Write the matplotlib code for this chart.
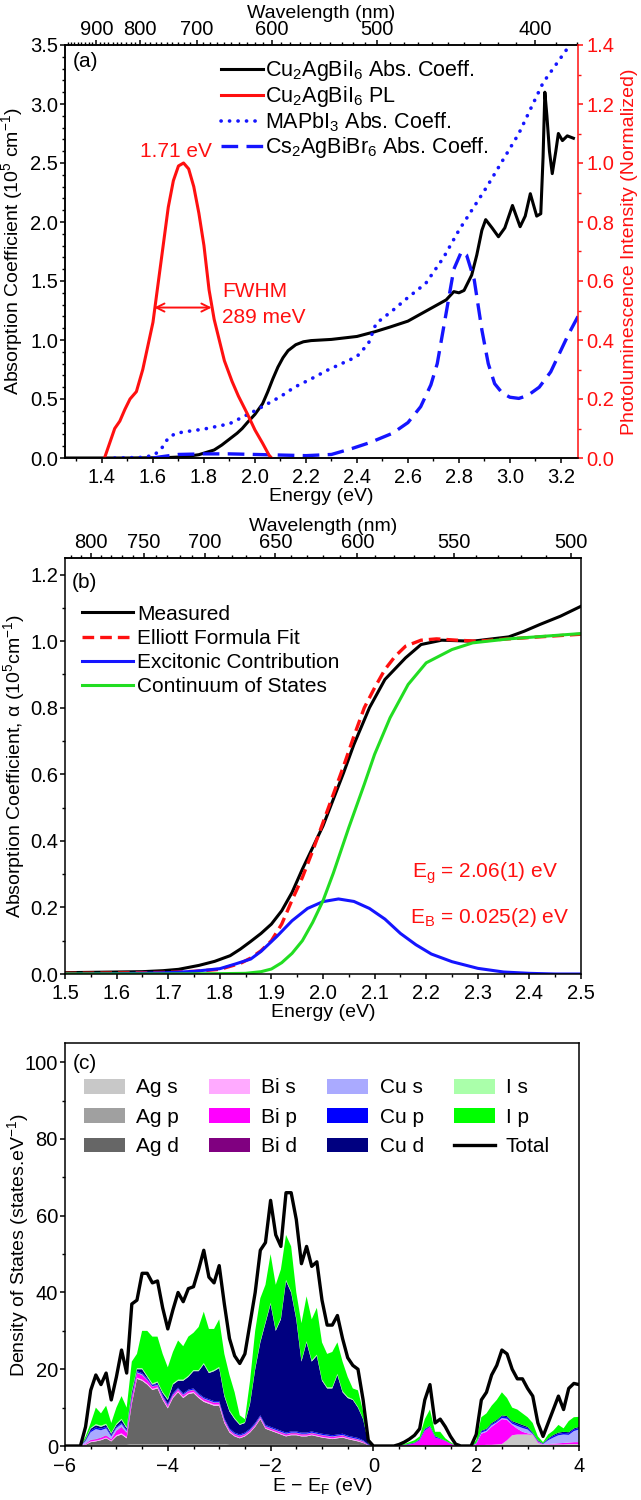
import numpy as np
import matplotlib
matplotlib.use('Agg')
import matplotlib.pyplot as plt
from matplotlib.ticker import MultipleLocator, FixedLocator
from matplotlib.patches import Patch
from matplotlib.lines import Line2D

plt.rcParams['font.family'] = ['Liberation Sans', 'DejaVu Sans']
plt.rcParams['mathtext.default'] = 'regular'
plt.rcParams['font.size'] = 14.5
plt.rcParams['axes.labelsize'] = 14
plt.rcParams['axes.linewidth'] = 1.1

# ---------------- panel (a): absorption + PL ----------------
cu_e = [1.255, 1.50, 1.60, 1.66, 1.72, 1.78, 1.84, 1.87, 1.90, 1.93, 1.95, 1.97, 2.00, 2.03,
        2.05, 2.07, 2.09, 2.11, 2.13, 2.16, 2.19, 2.22, 2.30, 2.40, 2.47, 2.53, 2.60, 2.65,
        2.70, 2.75, 2.78, 2.80, 2.82, 2.85, 2.87, 2.89, 2.905, 2.93, 2.955, 2.98, 3.01, 3.04,
        3.06, 3.08, 3.105, 3.121, 3.13, 3.137, 3.145, 3.155, 3.166, 3.18, 3.19, 3.206, 3.225,
        3.249]
cu_abs = [0.0, 0.0, 0.002, 0.004, 0.01, 0.028, 0.068, 0.11, 0.16, 0.21, 0.25, 0.30, 0.37, 0.46,
          0.56, 0.67, 0.77, 0.85, 0.91, 0.96, 0.985, 0.995, 1.005, 1.03, 1.07, 1.11, 1.16, 1.22,
          1.28, 1.34, 1.41, 1.40, 1.42, 1.55, 1.72, 1.93, 2.02, 1.95, 1.875, 1.95, 2.14, 1.96,
          2.05, 2.24, 2.05, 2.07, 2.55, 3.1, 2.9, 2.6, 2.41, 2.6, 2.75, 2.69, 2.73, 2.71]

pl_e = [1.41, 1.43, 1.45, 1.47, 1.49, 1.51, 1.535, 1.56, 1.58, 1.60, 1.62, 1.64, 1.66, 1.68,
        1.70, 1.72, 1.74, 1.76, 1.78, 1.80, 1.82, 1.84, 1.86, 1.88, 1.91, 1.935, 1.97, 2.00,
        2.03, 2.055, 2.065]
pl_int = [0.0, 0.05, 0.10, 0.125, 0.165, 0.20, 0.225, 0.30, 0.38, 0.46, 0.59, 0.72, 0.85, 0.94,
          0.99, 1.0, 0.98, 0.92, 0.83, 0.72, 0.57, 0.47, 0.40, 0.33, 0.26, 0.21, 0.15, 0.095,
          0.05, 0.01, 0.0]

ma_e = [1.45, 1.55, 1.60, 1.63, 1.66, 1.69, 1.75, 1.80, 1.90, 2.00, 2.10, 2.155, 2.22, 2.285,
        2.35, 2.40, 2.445, 2.475, 2.54, 2.60, 2.67, 2.74, 2.80, 2.91, 3.035, 3.13, 3.235]
ma_abs = [0.0, 0.005, 0.02, 0.068, 0.17, 0.21, 0.23, 0.245, 0.29, 0.40, 0.52, 0.60, 0.67, 0.745,
          0.81, 0.86, 0.97, 1.14, 1.25, 1.36, 1.48, 1.70, 1.93, 2.30, 2.75, 3.18, 3.5]

cs_e = [1.60, 1.63, 1.70, 1.80, 1.90, 2.00, 2.10, 2.20, 2.30, 2.38, 2.45, 2.54, 2.60, 2.65, 2.69,
        2.715, 2.75, 2.78, 2.81, 2.83, 2.86, 2.89, 2.915, 2.94, 2.97, 3.00, 3.035, 3.07, 3.115,
        3.16, 3.195, 3.23, 3.267]
cs_abs = [0.0, 0.01, 0.03, 0.035, 0.035, 0.03, 0.025, 0.02, 0.03, 0.08, 0.13, 0.21, 0.30, 0.435,
          0.62, 0.80, 1.23, 1.60, 1.75, 1.72, 1.51, 1.085, 0.80, 0.63, 0.55, 0.515, 0.505, 0.53,
          0.60, 0.73, 0.89, 1.05, 1.20]

# ---------------- panel (b): Elliott fit ----------------
meas_e = [1.50, 1.55, 1.60, 1.65, 1.69, 1.72, 1.76, 1.79, 1.82, 1.84, 1.86, 1.88, 1.90, 1.92,
          1.94, 1.96, 1.98, 2.00, 2.02, 2.04, 2.06, 2.09, 2.12, 2.16, 2.19, 2.23, 2.29, 2.36,
          2.39, 2.42, 2.46, 2.50]
meas_a = [0.004, 0.005, 0.006, 0.007, 0.010, 0.014, 0.026, 0.038, 0.055, 0.075, 0.098, 0.122,
          0.15, 0.19, 0.245, 0.315, 0.38, 0.445, 0.525, 0.605, 0.69, 0.80, 0.885, 0.95, 0.99,
          1.003, 1.0, 1.013, 1.03, 1.05, 1.075, 1.105]

fit_e = [1.50, 1.60, 1.70, 1.75, 1.80, 1.84, 1.86, 1.88, 1.90, 1.92, 1.94, 1.96, 1.98, 2.00,
         2.02, 2.04, 2.06, 2.08, 2.10, 2.12, 2.14, 2.16, 2.19, 2.22, 2.26, 2.30, 2.35, 2.40,
         2.45, 2.50]
fit_a = [0.002, 0.003, 0.005, 0.008, 0.014, 0.032, 0.048, 0.07, 0.10, 0.15, 0.222, 0.29, 0.37,
         0.455, 0.54, 0.625, 0.715, 0.80, 0.86, 0.915, 0.955, 0.985, 1.003, 1.007, 1.003, 1.0,
         1.006, 1.011, 1.016, 1.021]

exc_e = [1.50, 1.60, 1.70, 1.75, 1.80, 1.83, 1.86, 1.88, 1.91, 1.94, 1.97, 2.00, 2.03, 2.06,
         2.09, 2.12, 2.15, 2.18, 2.21, 2.25, 2.30, 2.35, 2.40, 2.45, 2.50]
exc_a = [0.0, 0.001, 0.004, 0.008, 0.016, 0.030, 0.045, 0.068, 0.112, 0.160, 0.197, 0.2175,
         0.2255, 0.218, 0.197, 0.165, 0.122, 0.088, 0.06, 0.037, 0.017, 0.006, 0.002, 0.0, 0.0]

cont_e = [1.50, 1.70, 1.80, 1.85, 1.88, 1.90, 1.92, 1.94, 1.96, 1.98, 2.00, 2.02, 2.05, 2.08,
          2.10, 2.13, 2.165, 2.20, 2.25, 2.29, 2.36, 2.43, 2.50]
cont_a = [0.0, 0.0, 0.001, 0.002, 0.007, 0.015, 0.034, 0.062, 0.10, 0.155, 0.22, 0.303, 0.44,
          0.57, 0.66, 0.77, 0.87, 0.935, 0.975, 0.995, 1.007, 1.015, 1.023]

# ---------------- panel (c): projected DOS, E - EF from -6.0 to 4.0 step 0.1 ----------------
dos_e = np.round(np.linspace(-6.0, 4.0, 101), 2)

ag_s = [0, 0, 0, 0, 0.1, 0.1, 0.1, 0.1, 0.1, 0.1,
        0.1, 0.1, 0.1, 0.2, 0.2, 0.2, 0.2, 0.2, 0.2, 0.2,
        0.2, 0.2, 0.2, 0.2, 0.2, 0.2, 0.2, 0.2, 0.2, 0.2,
        0.2, 0.2, 0.1, 0.1, 0.1, 0.1, 0.1, 0.1, 0.1, 0.1,
        0.1, 0.1, 0.1, 0.1, 0.1, 0.1, 0.1, 0.1, 0.1, 0.1,
        0.1, 0.1, 0.1, 0.1, 0.1, 0.1, 0.1, 0.1, 0.1, 0,
        0, 0, 0, 0, 0, 0, 0, 0, 0, 0,
        0.1, 0.1, 0.1, 0.1, 0, 0, 0, 0, 0, 0,
        0.1, 0.2, 0.3, 0.3, 0.4, 0.5, 1.5, 2.8, 3.0, 3.0,
        3.0, 2.9, 0.8, 0.3, 0.4, 0.4, 0.4, 0.4, 0.5, 0.5, 0.5]
ag_p = [0, 0, 0, 0, 0.1, 0.2, 0.2, 0.2, 0.2, 0.2,
        0.2, 0.2, 0.2, 0.3, 0.3, 0.3, 0.3, 0.3, 0.3, 0.3,
        0.3, 0.3, 0.3, 0.3, 0.3, 0.3, 0.3, 0.3, 0.3, 0.3,
        0.3, 0.3, 0.2, 0.2, 0.2, 0.2, 0.2, 0.2, 0.2, 0.2,
        0.2, 0.2, 0.2, 0.2, 0.2, 0.2, 0.2, 0.2, 0.2, 0.2,
        0.2, 0.2, 0.2, 0.2, 0.2, 0.2, 0.2, 0.2, 0.1, 0.1,
        0, 0, 0, 0, 0, 0, 0, 0, 0, 0,
        0, 0, 0, 0, 0, 0, 0, 0, 0, 0,
        0, 0, 0, 0, 0, 0, 0, 0, 0, 0,
        0, 0, 0, 0, 0, 0, 0, 0, 0, 0, 0]
ag_d = [0, 0, 0, 0, 0.1, 0.7, 0.9, 1.2, 1.7, 0.9,
        2.2, 2.7, 1.7, 10.5, 17.0, 16.5, 15.5, 14.1, 14.5, 11.5,
        9.3, 12.0, 13.5, 12.0, 13.0, 13.3, 12.0, 11.0, 10.5, 10.0,
        10.0, 5.5, 3.2, 2.2, 1.7, 2.2, 3.2, 4.7, 6.7, 4.2,
        3.7, 3.2, 2.7, 2.2, 2.5, 2.5, 2.2, 2.2, 2.5, 2.2,
        1.9, 1.7, 1.5, 1.7, 1.9, 1.5, 1.2, 0.9, 0.6, 0.1,
        0, 0, 0, 0, 0, 0, 0, 0, 0, 0,
        0, 0, 0, 0, 0, 0, 0, 0, 0, 0,
        0, 0, 0, 0, 0, 0, 0, 0, 0, 0,
        0, 0, 0, 0, 0, 0, 0, 0, 0, 0, 0]
bi_s = [0, 0, 0, 0, 0.1, 0.2, 0.2, 0.2, 0.2, 0.2,
        0.3, 0.3, 0.3, 0.3, 0.3, 0.3, 0.3, 0.3, 0.3, 0.3,
        0.3, 0.3, 0.3, 0.3, 0.3, 0.3, 0.3, 0.3, 0.3, 0.3,
        0.3, 0.3, 0.3, 0.2, 0.2, 0.2, 0.2, 0.2, 0.2, 0.2,
        0.2, 0.2, 0.2, 0.2, 0.2, 0.2, 0.2, 0.2, 0.2, 0.2,
        0.2, 0.2, 0.2, 0.2, 0.2, 0.2, 0.2, 0.2, 0.1, 0,
        0, 0, 0, 0, 0, 0, 0, 0, 0, 0,
        0, 0, 0, 0, 0, 0, 0, 0, 0, 0,
        0, 0, 0, 0, 0, 0, 0, 0, 0, 0,
        0, 0, 0, 0, 0, 0, 0, 0, 0, 0, 0]
bi_p = [0, 0, 0, 0, 0.2, 0.3, 0.3, 0.4, 0.5, 0.3,
        1.1, 1.6, 1.1, 1.1, 1.1, 1.1, 0.8, 0.5, 0.4, 0.4,
        0.4, 0.4, 0.4, 0.4, 0.4, 0.4, 0.4, 0.4, 0.4, 0.4,
        0.4, 0.4, 0.3, 0.3, 0.3, 0.3, 0.3, 0.3, 0.3, 0.3,
        0.3, 0.3, 0.3, 0.3, 0.3, 0.3, 0.3, 0.3, 0.3, 0.3,
        0.3, 0.3, 0.3, 0.3, 0.3, 0.2, 0.2, 0.2, 0.2, 0.1,
        0, 0, 0, 0, 0, 0.1, 0.2, 0.4, 0.7, 1.5,
        3.9, 4.9, 2.1, 1.7, 1.3, 0.6, 0.1, 0, 0, 0,
        0.4, 3.0, 3.4, 4.7, 5.6, 6.5, 5.3, 2.7, 1.5, 0.7,
        0.3, 0.1, 0.3, 0.1, 0.1, 0.2, 0.3, 0.4, 0.4, 0.5, 0.5]
bi_d = [0, 0, 0, 0, 0, 0.1, 0.1, 0.1, 0.1, 0.1,
        0.1, 0.1, 0.1, 0.1, 0.1, 0.1, 0.1, 0.1, 0.1, 0.1,
        0.1, 0.1, 0.1, 0.1, 0.1, 0.1, 0.1, 0.1, 0.1, 0.1,
        0.1, 0.1, 0.1, 0.1, 0.1, 0.1, 0.1, 0.1, 0.1, 0.1,
        0.1, 0.1, 0.1, 0.1, 0.1, 0.1, 0.1, 0.1, 0.1, 0.1,
        0.1, 0.1, 0.1, 0.1, 0.1, 0.1, 0.1, 0.1, 0.1, 0,
        0, 0, 0, 0, 0, 0, 0, 0, 0, 0,
        0, 0, 0, 0, 0, 0, 0, 0, 0, 0,
        0, 0, 0, 0, 0, 0, 0, 0, 0, 0,
        0, 0, 0, 0, 0, 0, 0, 0, 0, 0, 0]
cu_s = [0, 0, 0, 0, 0.7, 2.0, 2.6, 1.9, 1.8, 0.7,
        0.7, 0.7, 0.4, 0.2, 0.2, 0.2, 0.1, 0.1, 0.1, 0.1,
        0.1, 0.1, 0.1, 0.1, 0.1, 0.1, 0.1, 0.1, 0.1, 0.1,
        0.1, 0.1, 0.1, 0.1, 0.1, 0.1, 0.1, 0.1, 0.1, 0.1,
        0.1, 0.1, 0.1, 0.1, 0.1, 0.1, 0.1, 0.1, 0.1, 0.1,
        0.1, 0.1, 0.1, 0.1, 0.1, 0.1, 0.1, 0.1, 0.1, 0,
        0, 0, 0, 0, 0, 0, 0, 0, 0, 0,
        0, 0, 0, 0, 0, 0, 0, 0, 0, 0,
        0.1, 0.3, 0.3, 0.4, 0.2, 0.3, 0.3, 0.3, 0.7, 1.0,
        1.0, 0.1, 0.1, 0.1, 1.0, 1.6, 2.1, 2.2, 2.0, 2.9, 3.3]
cu_p = [0, 0, 0, 0, 0.2, 0.4, 0.4, 0.4, 0.4, 0.3,
        0.3, 0.3, 0.3, 0.3, 0.3, 0.3, 0.3, 0.3, 0.3, 0.3,
        0.3, 0.3, 0.3, 0.3, 0.3, 0.3, 0.3, 0.3, 0.3, 0.3,
        0.3, 0.3, 0.3, 0.3, 0.3, 0.3, 0.3, 0.3, 0.3, 0.3,
        0.3, 0.3, 0.3, 0.3, 0.3, 0.3, 0.3, 0.3, 0.3, 0.3,
        0.3, 0.3, 0.3, 0.3, 0.3, 0.3, 0.3, 0.3, 0.2, 0.1,
        0, 0, 0, 0, 0, 0.05, 0.05, 0.1, 0.1, 0.2,
        0.3, 0.2, 0.3, 0.1, 0.05, 0.05, 0, 0, 0, 0,
        0.1, 0.3, 0.3, 0.3, 0.3, 0.4, 0.4, 0.4, 0.4, 0.4,
        0.4, 0.2, 0.1, 0.1, 0.3, 0.4, 0.4, 0.4, 0.4, 0.4, 0.4]
cu_d = [0, 0, 0, 0, 0.3, 0.5, 0.6, 0.5, 0.5, 0.4,
        0.5, 0.8, 0.4, 1.0, 0.5, 1.0, 0.4, 0.1, 0.3, 0.6,
        1.0, 2.3, 1.8, 3.3, 3.3, 4.5, 5.8, 8.6, 6.8, 7.8,
        8.6, 5.8, 4.4, 3.5, 2.5, 2.5, 6.5, 14.0, 19.0, 26.5,
        32.0, 25.5, 29.0, 39.5, 36.2, 29.2, 18.5, 23.5, 18.2, 20.0,
        13.8, 12.0, 12.2, 15.5, 10.8, 9.8, 9.6, 7.9, 5.5, 0.4,
        0, 0, 0, 0, 0, 0.05, 0.05, 0.1, 0.1, 0.1,
        0.2, 0.1, 0.1, 0.1, 0.05, 0.05, 0, 0, 0, 0,
        0.1, 0.2, 0.2, 0.3, 0.3, 0.3, 0.3, 0.3, 0.4, 0.4,
        0.3, 0.2, 0.2, 0.1, 0.2, 0.3, 0.3, 0.3, 0.3, 0.3, 0.3]
i_s = [0, 0, 0, 0, 0.1, 0.2, 0.3, 0.3, 0.3, 0.2,
       0.3, 0.3, 0.3, 0.3, 0.3, 0.3, 0.3, 0.3, 0.3, 0.3,
       0.3, 0.3, 0.3, 0.3, 0.3, 0.3, 0.3, 0.3, 0.3, 0.3,
       0.3, 0.3, 0.3, 0.3, 0.2, 0.2, 0.3, 0.3, 0.3, 0.3,
       0.3, 0.3, 0.3, 0.3, 0.3, 0.3, 0.3, 0.3, 0.3, 0.3,
       0.3, 0.3, 0.3, 0.3, 0.3, 0.3, 0.2, 0.2, 0.1, 0,
       0, 0, 0, 0, 0, 0, 0, 0, 0, 0,
       0, 0, 0, 0, 0, 0, 0, 0, 0, 0,
       0, 0, 0, 0, 0, 0, 0, 0, 0, 0,
       0, 0, 0, 0, 0, 0, 0, 0, 0, 0, 0]
i_p = [0, 0, 0, 0, 0.6, 1.3, 4.3, 3.2, 4.7, 2.6,
       4.2, 5.9, 5.1, 7.7, 3.7, 9.7, 11.7, 12.2, 11.7, 9.9,
       8.2, 8.2, 10.2, 8.7, 10.2, 9.7, 11.2, 13.4, 11.2, 10.7,
       12.4, 10.7, 9.2, 6.7, 2.3, 0.8, 5.7, 9.7, 11.2, 9.7,
       12.7, 11.7, 12.7, 11.7, 11.7, 6.7, 9.7, 11.7, 10.7, 12.2,
       9.7, 8.7, 9.2, 8.2, 7.7, 5.2, 2.8, 4.3, 1.9, 0.2,
       0, 0, 0, 0, 0, 0.1, 0.2, 0.4, 0.6, 0.7,
       2.5, 4.2, 1.1, 1.7, 0.6, 0.3, 0.1, 0, 0, 0,
       0.7, 3.5, 4.0, 4.5, 5.2, 6.0, 4.7, 3.5, 3.5, 3.0,
       2.5, 2.5, 1.0, 0.3, 1.0, 1.1, 2.0, 0.9, 2.9, 2.9, 2.6]
dos_total = [0, 0, 0, 0, 5, 14.5, 18.5, 16, 19, 12,
             18, 25, 19, 37, 38, 45, 45, 42.5, 43, 36,
             30.5, 35.5, 40, 37.6, 41, 41.5, 46, 51, 44, 42.5,
             47, 37, 28, 23.5, 21.5, 24, 32, 40, 51, 53,
             64, 55, 52, 66, 66, 59, 47.5, 52, 46.8, 48,
             38, 31.5, 31.5, 34, 28, 23, 21, 20, 12, 1.5,
             0, 0, 0, 0, 0, 0.4, 1.0, 1.8, 2.8, 4.5,
             12, 16, 6, 7, 5, 2.5, 0.5, 0, 0, 0,
             3, 12, 14, 18.5, 21, 25, 24, 20, 17.5, 17.5,
             15, 13, 6, 2.5, 6, 9.5, 13, 9.5, 15, 16.3, 16]

pdos_labels = ['Ag s', 'Ag p', 'Ag d', 'Bi s', 'Bi p', 'Bi d',
               'Cu s', 'Cu p', 'Cu d', 'I s', 'I p']
pdos_colors = ['#c8c8c8', '#a0a0a0', '#666666', '#ffaaff', '#ff00ff', '#800080',
               '#aaaaff', '#0000ff', '#000080', '#aaffaa', '#00ff00']

RED = '#ff1010'
BLUE = '#1515ff'
GREEN = '#22dd22'
DOTS = (0, (0.05, 2.3))
DASH = (0, (5, 2.5))


def e2nm(x):
    x = np.asarray(x, dtype=float)
    with np.errstate(divide='ignore'):
        return 1240.0 / x


def style_ticks(ax, pad=3.5):
    ax.tick_params(which='major', direction='out', length=3.6, width=1.1, pad=pad)
    ax.tick_params(which='minor', direction='out', length=2.0, width=1.0, pad=pad)


fig = plt.figure(figsize=(6.41, 15), dpi=100)

# ---------------- (a) ----------------
ax1 = fig.add_axes([65 / 641, 1 - 458 / 1500, 513 / 641, 413 / 1500])
ax1.plot(cu_e, cu_abs, color='black', lw=2.2)
ax1.plot(ma_e, ma_abs, color=BLUE, lw=2.6, linestyle=DOTS, dash_capstyle='round')
ax1.plot(cs_e, cs_abs, color=BLUE, lw=2.4, linestyle=DASH)
ax1.set_xlim(1.255, 3.267)
ax1.set_ylim(0, 3.5)
ax1.xaxis.set_major_locator(MultipleLocator(0.2))
ax1.xaxis.set_minor_locator(MultipleLocator(0.1))
ax1.yaxis.set_major_locator(MultipleLocator(0.5))
ax1.yaxis.set_minor_locator(MultipleLocator(0.1))
style_ticks(ax1)
ax1.tick_params(axis='y', which='both', pad=1.5)
ax1.spines['right'].set_visible(False)
ax1.set_xlabel('Energy (eV)', labelpad=1)
ax1.set_ylabel('Absorption Coefficient (10$^5$ cm$^{-1}$)')
ax1.yaxis.set_label_coords(-0.078, 0.5)
ax1.text(0.016, 0.959, '(a)', transform=ax1.transAxes, ha='left', va='center', fontsize=15)

ax1r = ax1.twinx()
ax1r.plot(pl_e, pl_int, color=RED, lw=2.2)
ax1r.set_ylim(0, 1.4)
ax1r.yaxis.set_major_locator(MultipleLocator(0.2))
ax1r.yaxis.set_minor_locator(MultipleLocator(0.1))
style_ticks(ax1r)
ax1r.tick_params(axis='y', which='both', colors=RED, pad=2.5)
ax1r.spines['right'].set_color(RED)
ax1r.spines['top'].set_visible(False)
ax1r.set_ylabel('Photoluminescence Intensity (Normalized)', color=RED)
ax1r.yaxis.set_label_coords(1.084, 0.5)
ax1r.text(1.69, 1.04, '1.71 eV', color=RED, ha='center', va='center', fontsize=15)
ax1r.annotate('', xy=(1.605, 0.51), xytext=(1.83, 0.51),
              arrowprops=dict(arrowstyle='<->', color=RED, lw=1.4, shrinkA=0, shrinkB=0))
ax1r.text(1.87, 0.564, 'FWHM', color=RED, ha='left', va='center', fontsize=15)
ax1r.text(1.87, 0.477, '289 meV', color=RED, ha='left', va='center', fontsize=15)

sec1 = ax1.secondary_xaxis('top', functions=(e2nm, e2nm))
sec1.set_xticks([900, 800, 700, 600, 500, 400])
sec1.xaxis.set_minor_locator(FixedLocator(np.arange(380, 1000, 10)))
style_ticks(sec1, pad=1.0)
sec1.set_xlabel('Wavelength (nm)', labelpad=1)

leg_a = [Line2D([], [], color='black', lw=2.2),
         Line2D([], [], color=RED, lw=2.2),
         Line2D([], [], color=BLUE, lw=2.6, linestyle=DOTS, dash_capstyle='round'),
         Line2D([], [], color=BLUE, lw=2.4, linestyle=DASH)]
ax1.legend(leg_a, ['Cu$_2$AgBiI$_6$ Abs. Coeff.', 'Cu$_2$AgBiI$_6$ PL',
                   'MAPbI$_3$ Abs. Coeff.', 'Cs$_2$AgBiBr$_6$ Abs. Coeff.'],
           loc='upper left', bbox_to_anchor=(0.304, 0.968), frameon=False, fontsize=15.5,
           handlelength=1.95, handletextpad=0.1, labelspacing=0.05, borderpad=0,
           borderaxespad=0)

# ---------------- (b) ----------------
ax2 = fig.add_axes([65 / 641, 1 - 974 / 1500, 516 / 641, 416 / 1500])
ax2.plot(meas_e, meas_a, color='black', lw=2.2, label='Measured')
ax2.plot(fit_e, fit_a, color=RED, lw=2.4, linestyle=(0, (3.5, 1.8)), label='Elliott Formula Fit')
ax2.plot(exc_e, exc_a, color=BLUE, lw=2.2, label='Excitonic Contribution')
ax2.plot(cont_e, cont_a, color=GREEN, lw=2.2, label='Continuum of States')
ax2.set_xlim(1.5, 2.5)
ax2.set_ylim(0, 1.25)
ax2.xaxis.set_major_locator(MultipleLocator(0.1))
ax2.xaxis.set_minor_locator(MultipleLocator(0.05))
ax2.yaxis.set_major_locator(MultipleLocator(0.2))
ax2.yaxis.set_minor_locator(MultipleLocator(0.1))
style_ticks(ax2)
ax2.tick_params(axis='y', which='both', pad=1.5)
ax2.set_xlabel('Energy (eV)', labelpad=1)
ax2.set_ylabel('Absorption Coefficient, α (10$^5$cm$^{-1}$)')
ax2.yaxis.set_label_coords(-0.074, 0.5)
ax2.text(0.014, 0.942, '(b)', transform=ax2.transAxes, ha='left', va='center', fontsize=15)
ax2.text(2.172, 0.304, 'E$_g$ = 2.06(1) eV', color=RED, ha='left', va='center', fontsize=15)
ax2.text(2.168, 0.171, 'E$_B$ = 0.025(2) eV', color=RED, ha='left', va='center', fontsize=15)
ax2.legend(loc='upper left', bbox_to_anchor=(0.033, 0.888), frameon=False, fontsize=15,
           handlelength=2.45, handletextpad=0.2, labelspacing=0.25, borderpad=0,
           borderaxespad=0)

sec2 = ax2.secondary_xaxis('top', functions=(e2nm, e2nm))
sec2.set_xticks([800, 750, 700, 650, 600, 550, 500])
sec2.xaxis.set_minor_locator(FixedLocator(np.arange(490, 830, 10)))
style_ticks(sec2, pad=1.0)
sec2.set_xlabel('Wavelength (nm)', labelpad=1)

# ---------------- (c) ----------------
ax3 = fig.add_axes([65 / 641, 1 - 1446 / 1500, 514 / 641, 403 / 1500])
ax3.stackplot(dos_e, ag_s, ag_p, ag_d, bi_s, bi_p, bi_d, cu_s, cu_p, cu_d, i_s, i_p,
              colors=pdos_colors, linewidth=0)
ax3.plot(dos_e, dos_total, color='black', lw=2.4)
ax3.set_xlim(-6, 4)
ax3.set_ylim(0, 105)
ax3.xaxis.set_major_locator(MultipleLocator(2))
ax3.xaxis.set_minor_locator(MultipleLocator(0.5))
ax3.yaxis.set_major_locator(MultipleLocator(20))
ax3.yaxis.set_minor_locator(MultipleLocator(10))
style_ticks(ax3, pad=4.5)
ax3.tick_params(axis='y', which='both', pad=1.5)
ax3.tick_params(top=False, right=False, which='both')
ax3.set_xlabel('E − E$_F$ (eV)', labelpad=0)
ax3.set_ylabel('Density of States (states.eV$^{-1}$)')
ax3.yaxis.set_label_coords(-0.066, 0.5)
ax3.text(0.016, 0.95, '(c)', transform=ax3.transAxes, ha='left', va='center', fontsize=15)

leg_c = [Patch(facecolor=c, edgecolor='none') for c in pdos_colors]
leg_c.append(Line2D([], [], color='black', lw=2.4))
ax3.legend(leg_c, pdos_labels + ['Total'], ncol=4, loc='upper left',
           bbox_to_anchor=(0.037, 0.912), frameon=False, fontsize=15, handlelength=1.95,
           handleheight=0.72, handletextpad=0.55, labelspacing=0.5, columnspacing=1.45,
           borderpad=0, borderaxespad=0)

fig.savefig('out.png', dpi=100)
